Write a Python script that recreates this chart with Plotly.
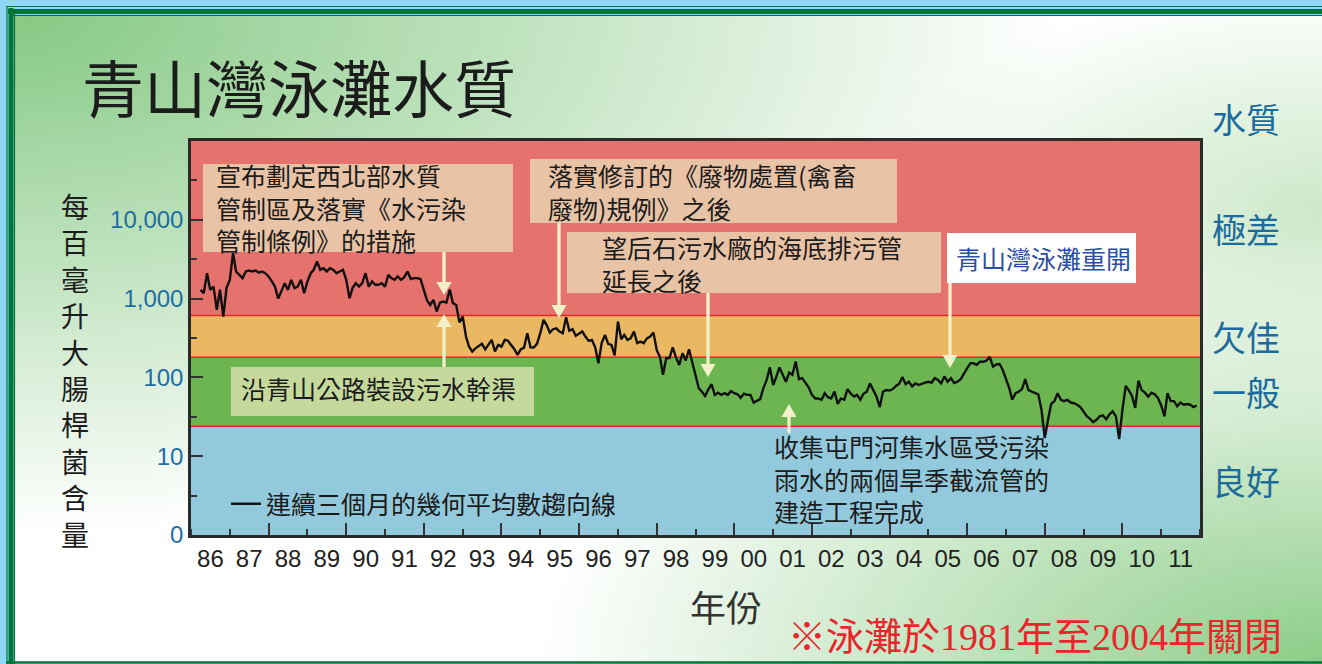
import base64
import numpy as np
import pandas as pd
import plotly.graph_objects as go

# ---------------- data ----------------
series_start = "1986-04-01"          # first monthly reading
coliform_geomean = [
    # 1986 (Apr-Dec)
    1290, 1170, 2100, 1290, 1420, 720, 1300, 592, 1360,
    # 1987
    1730, 3780, 2210, 2000, 1820, 2210, 2270, 2210, 2270, 2140, 2210, 2100,
    # 1988
    1910, 1650, 1420, 1000, 1230, 1570, 1290, 1730, 1360, 1420, 1730, 1170,
    # 1989
    1650, 2100, 2320, 2960, 2320, 2430, 2210, 2430, 2320, 2100, 2210, 2320,
    # 1990
    1730, 1010, 1360, 1570, 1420, 1570, 2100, 1420, 1650, 1500, 1500, 1570,
    # 1991
    1420, 2000, 1820, 1730, 1910, 1730, 1870, 2210, 1770, 1820, 1820, 1770,
    # 1992
    1290, 945, 830, 964, 685, 890, 918, 890, 1300, 875, 830, 500,
    # 1993
    592, 330, 246, 213, 234, 250, 267, 227, 259, 299, 213, 259,
    # 1994
    246, 299, 293, 259, 230, 193, 227, 239, 364, 241, 239, 267,
    # 1995
    364, 537, 465, 371, 409, 420, 382, 364, 580, 390, 409, 337,
    # 1996
    357, 382, 330, 290, 299, 241, 151, 272, 347, 267, 259, 190,
    # 1997
    511, 305, 347, 299, 313, 382, 272, 285, 272, 313, 330, 371,
    # 1998
    223, 180, 108, 176, 176, 241, 180, 144, 203, 164, 227, 159,
    # 1999
    108, 73, 66, 58, 70, 82, 60, 64, 60, 63, 60, 67,
    # 2000
    63, 61, 55, 62, 60, 60, 48, 51, 53, 73, 93, 134,
    # 2001
    80, 103, 134, 108, 88, 115, 108, 159, 95, 98, 87, 75,
    # 2002
    60, 54, 54, 52, 63, 56, 54, 66, 46, 54, 52, 71,
    # 2003
    62, 57, 60, 52, 62, 66, 84, 69, 57, 42, 66, 69,
    # 2004
    68, 71, 78, 83, 101, 82, 88, 77, 84, 80, 84, 86,
    # 2005
    88, 86, 98, 93, 84, 103, 88, 98, 85, 88, 95, 113,
    # 2006
    131, 151, 151, 144, 158, 158, 163, 182, 137, 146, 148, 125,
    # 2007
    98, 73, 52, 63, 66, 71, 95, 69, 66, 63, 61, 39,
    # 2008
    17, 29, 46, 50, 63, 52, 50, 52, 48, 47, 45, 42,
    # 2009
    37, 32, 30, 27, 29, 32, 33, 29.5, 34, 37, 32, 16.5,
    # 2010
    39, 78, 69, 58, 41, 91, 69, 64, 57, 64, 61, 55,
    # 2011
    44, 32, 63, 50, 50, 43, 48, 45, 46, 45, 42, 44,
]
series_name = "連續三個月的幾何平均數趨向線"

band_limits = [1, 24, 180, 610, 100000]          # E. coli / 100 mL grading limits
band_labels = ["良好", "一般", "欠佳", "極差"]
band_colors = ["#93c9dc", "#6cb550", "#eab863", "#e5726d"]

y_tickvals = [1, 10, 100, 1000, 10000]
y_ticktext = ["0", "10", "100", "1,000", "10,000"]
y_minor_vals = [3.162, 31.62, 316.2, 3162, 31623]
x_range = ["1986-01-01", "2012-01-01"]

dates = pd.date_range(series_start, periods=len(coliform_geomean), freq="MS")

# ---------------- layout helpers ----------------
FW, FH = 1322, 664
L, T, PW, PH = 191, 141, 1009, 394
CJK = "Noto Sans CJK TC"
LAT = "Liberation Sans"


def px(x):
    return (x - L) / PW


def py(y):
    return (T + PH - y) / PH


fig = go.Figure()
fig.add_trace(go.Scatter(x=dates, y=coliform_geomean, mode="lines",
                         line=dict(color="#111111", width=2.4),
                         name=series_name, showlegend=True, hoverinfo="skip"))
fig.add_trace(go.Scatter(x=dates, y=coliform_geomean, xaxis="x2", mode="lines",
                         line=dict(width=0), opacity=0, showlegend=False,
                         hoverinfo="skip"))

shapes = []
for i in range(4):
    shapes.append(dict(type="rect", xref="paper", yref="y", x0=0, x1=1,
                       y0=band_limits[i], y1=band_limits[i + 1],
                       fillcolor=band_colors[i], line=dict(width=0), layer="below"))
for lim in band_limits[1:4]:
    shapes.append(dict(type="line", xref="paper", yref="y", x0=0, x1=1,
                       y0=lim, y1=lim, line=dict(color="#e3262b", width=1.6),
                       layer="below"))

# page border
G = "#00763a"
def hline(y, w, x0=6):
    return dict(type="line", xref="paper", yref="paper", x0=px(x0), x1=px(FW),
                y0=py(y), y1=py(y), line=dict(color=G, width=w), layer="above")
def vline(x, w, y0=6):
    return dict(type="line", xref="paper", yref="paper", x0=px(x), x1=px(x),
                y0=py(y0), y1=py(FH), line=dict(color=G, width=w), layer="above")
shapes += [hline(6.5, 1.2), hline(11.5, 5, 8), hline(15.5, 1.2, 13),
           vline(7, 1.2), vline(11, 5, 8), vline(14.5, 1.2, 13),
           hline(662.5, 2.5, 6)]

# annotation boxes
def box(x0, y0, x1, y1, color):
    return dict(type="rect", xref="paper", yref="paper", x0=px(x0), x1=px(x1),
                y0=py(y1), y1=py(y0), fillcolor=color, line=dict(width=0),
                layer="above")
PEACH = "#e9c3a6"
shapes += [box(203, 164, 513, 252, PEACH), box(530, 159, 897, 223, PEACH),
           box(567, 232, 941, 293, PEACH), box(947, 233, 1136, 283, "#ffffff"),
           box(231, 367, 534, 416, "#c6d99c")]

# arrows drawn as shapes: tip x, tip y, tail y
ARROW = "#f4f0c9"
HW, HL = 7.5, 13
for tx, ty, tail in [(444, 295, 252), (444, 314, 367), (559, 318, 223),
                     (708, 377, 293), (950, 368, 283), (789, 404, 433)]:
    d = 1 if tail < ty else -1          # +1: pointing down
    base = ty - d * HL
    shapes.append(dict(type="line", xref="paper", yref="paper", x0=px(tx), x1=px(tx),
                       y0=py(tail), y1=py(base), line=dict(color=ARROW, width=3.3),
                       layer="above"))
    path = (f"M{px(tx - HW)},{py(base)} L{px(tx + HW)},{py(base)} "
            f"L{px(tx)},{py(ty)} Z")
    shapes.append(dict(type="path", xref="paper", yref="paper", path=path,
                       fillcolor=ARROW, line=dict(width=0), layer="above"))

ann = []
def text(t, x, y, size, color="#1c1c1c", xanchor="left", family=CJK, yref="paper",
         align="left"):
    ann.append(dict(text=t, x=px(x), y=(py(y) if yref == "paper" else y),
                    xref="paper", yref=yref, xanchor=xanchor, yanchor="middle",
                    align=align, showarrow=False,
                    font=dict(size=size, color=color, family=family)))

text("青山灣泳灘水質", 80, 86, 62)
text("<br>".join("每百毫升大腸桿菌含量"), 75, 370, 28, xanchor="center", align="center")

BLUE = "#1b6c9c"
text("水質", 1210, 118, 34, BLUE)
for i, lab in enumerate(band_labels):
    yc = (np.log10(band_limits[i]) + np.log10(band_limits[i + 1])) / 2
    ann.append(dict(text=lab, x=px(1210), y=yc, xref="paper", yref="y",
                    xanchor="left", yanchor="middle", showarrow=False,
                    font=dict(size=34, color=BLUE, family=CJK)))

text("年份", 726, 606, 36, "#333333", xanchor="center")
text("※泳灘於1981年至2004年關閉", 786, 637, 38, "#e8262c",
     family="Liberation Serif, " + CJK)

BS = 25
text("宣布劃定西北部水質<br>管制區及落實《水污染<br>管制條例》的措施", 214, 207, BS)
text("落實修訂的《廢物處置(禽畜<br>廢物)規例》之後", 546, 191, BS)
text("望后石污水廠的海底排污管<br>延長之後", 600, 263, BS)
text("青山灣泳灘重開", 954, 258, BS, "#2c50a0")
text("沿青山公路裝設污水幹渠", 239, 388, BS)
text("收集屯門河集水區受污染<br>雨水的兩個旱季截流管的<br>建造工程完成", 772, 478, BS)

# background gradient
svg = f'''<svg xmlns="http://www.w3.org/2000/svg" width="{FW}" height="{FH}" viewBox="0 0 {FW} {FH}" preserveAspectRatio="none">
<defs>
<radialGradient id="a" cx="0" cy="0" r="0.8">
<stop offset="0" stop-color="#86c984" stop-opacity="1"/>
<stop offset="1" stop-color="#86c984" stop-opacity="0"/>
</radialGradient>
<radialGradient id="b" cx="1" cy="1" r="0.6">
<stop offset="0" stop-color="#8ccd88" stop-opacity="1"/>
<stop offset="1" stop-color="#8ccd88" stop-opacity="0"/>
</radialGradient>
<radialGradient id="c" cx="1" cy="0.3" r="0.35">
<stop offset="0" stop-color="#bfe3bb" stop-opacity="0.8"/>
<stop offset="1" stop-color="#bfe3bb" stop-opacity="0"/>
</radialGradient>
</defs>
<rect width="{FW}" height="{FH}" fill="#ffffff"/>
<rect width="{FW}" height="{FH}" fill="url(#a)"/>
<rect width="{FW}" height="{FH}" fill="url(#b)"/>
<rect width="{FW}" height="{FH}" fill="url(#c)"/>
</svg>'''
src = "data:image/svg+xml;base64," + base64.b64encode(svg.encode()).decode()

fig.update_layout(
    width=FW, height=FH, autosize=False,
    margin=dict(l=L, r=FW - L - PW, t=T, b=FH - T - PH, pad=0),
    paper_bgcolor="#8fd7f4", plot_bgcolor="rgba(0,0,0,0)",
    images=[dict(source=src, xref="paper", yref="paper", x=px(15), y=py(16),
                 sizex=(FW - 15) / PW, sizey=(FH - 16) / PH, sizing="stretch",
                 xanchor="left", yanchor="top", layer="below")],
    shapes=shapes, annotations=ann,
    showlegend=True,
    legend=dict(x=px(226), y=py(504), xanchor="left", yanchor="middle",
                bgcolor="rgba(0,0,0,0)", borderwidth=0,
                font=dict(size=25, color="#1a1a1a", family=CJK)),
    xaxis=dict(type="date", range=x_range, tick0="1986-01-01", dtick="M12",
               tickformat="%y", ticklabelmode="period", ticks="inside", ticklen=6,
               tickwidth=1.5, tickcolor="#333333", showline=True, linecolor="#2a2a2a",
               linewidth=2.5, mirror=True, showgrid=False, zeroline=False,
               tickfont=dict(size=24, color="#222222", family=LAT),
               ticklabelstandoff=0),
    xaxis2=dict(type="date", range=x_range, overlaying="x", anchor="y", side="bottom",
                tick0="1986-01-01", dtick="M24", ticks="inside", ticklen=12,
                tickwidth=1.5, tickcolor="#333333", showticklabels=False,
                showline=False, showgrid=False, zeroline=False),
    yaxis=dict(type="log", range=[0, 5], tickmode="array", tickvals=y_tickvals,
               ticktext=y_ticktext, ticks="inside", ticklen=12, tickwidth=1.5,
               tickcolor="#333333",
               minor=dict(tickmode="array", tickvals=y_minor_vals, ticks="inside",
                          ticklen=6, tickwidth=1.5, tickcolor="#333333", showgrid=False),
               showline=True, linecolor="#2a2a2a", linewidth=2.5, mirror=True,
               showgrid=False, zeroline=False,
               tickfont=dict(size=24, color="#1e6ea5", family=LAT)),
)

fig.write_html("out.html", config={"displayModeBar": False},
               post_script="document.body.style.margin='0';document.body.style.padding='0';"
                           "document.body.style.overflow='hidden';")
